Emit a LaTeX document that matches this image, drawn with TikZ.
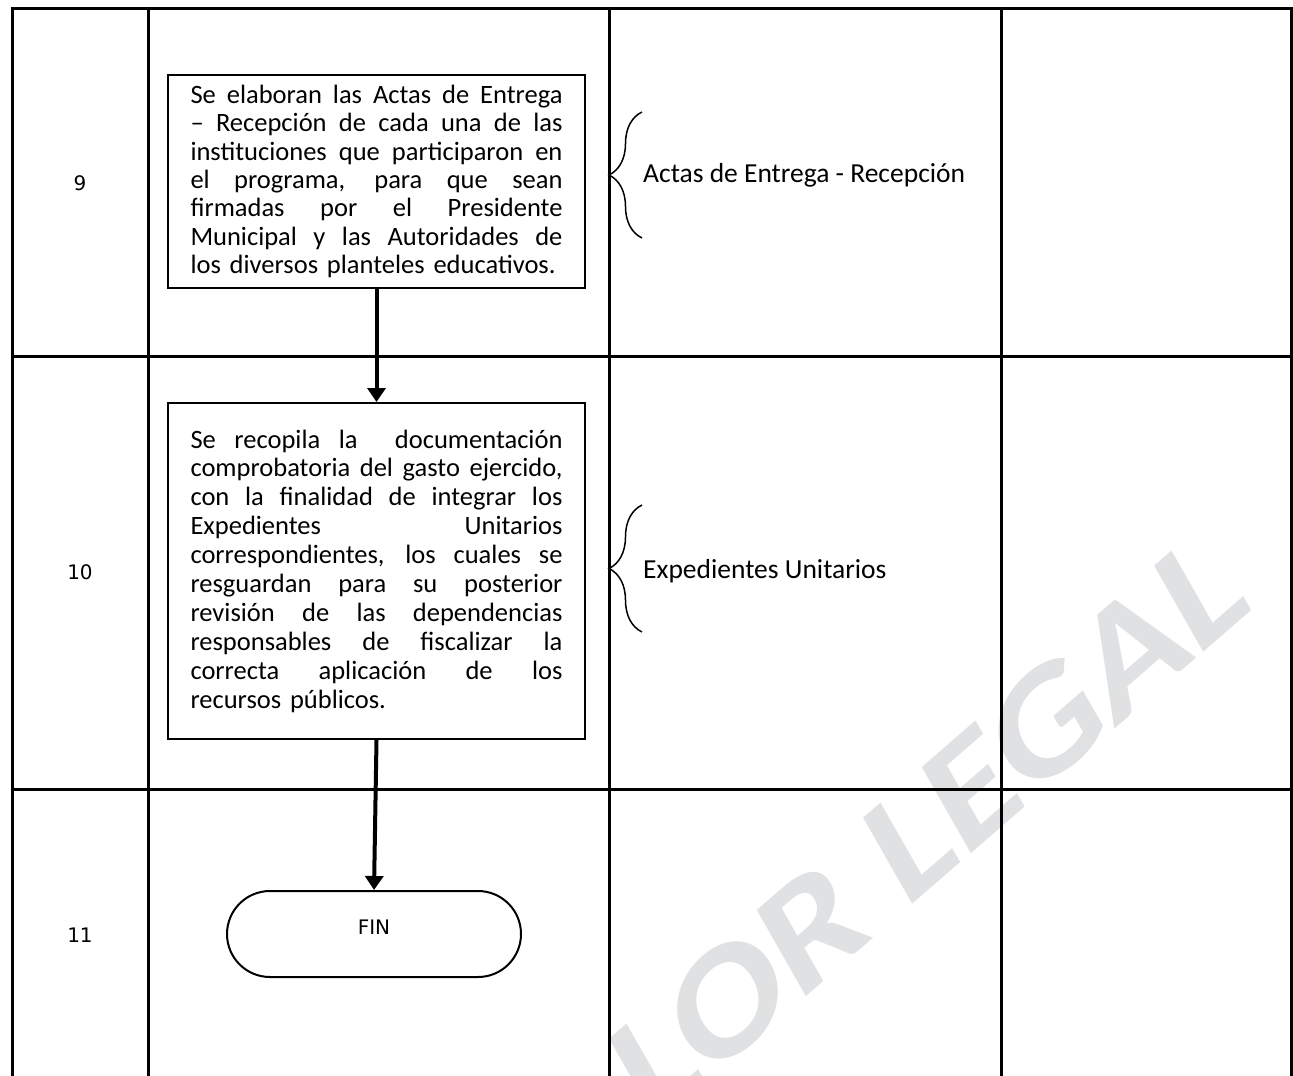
\documentclass[tikz,border=0pt]{standalone}
\usepackage{fontspec}
\setmainfont{Carlito}
\newfontfamily\labelfont{DejaVu Sans}
\usetikzlibrary{arrows.meta,decorations.pathreplacing}
\definecolor{wmgray}{RGB}{224,225,227}
% justified line of fixed width inside the process boxes
\newlength\colw \setlength\colw{372pt}
\newcommand\jline[1]{\makebox[\colw][s]{%
  \spaceskip=\fontdimen2\font plus 1fil minus \fontdimen4\font
  \xspaceskip=\spaceskip #1}\\}
\begin{document}
\begin{tikzpicture}[x=1pt,y=-1pt,
  grid/.style={line width=3pt, line cap=rect},
  procbox/.style={draw, line width=2pt, text width=\colw, inner xsep=22.5pt,
    inner ysep=0pt, align=left, minimum width=417pt},
  bodyfont/.style={font=\fontsize{26.5}{#1}\selectfont},
  flow/.style={line width=4pt, -{Triangle[width=18pt,length=14pt]}},
  term/.style={draw, line width=2pt, rounded corners=43pt, minimum width=294pt,
    minimum height=86pt, inner sep=0pt, font=\labelfont\fontsize{20}{24}\selectfont,
    text height=15pt, text depth=14pt},
  stepno/.style={inner sep=0pt, font=\labelfont\fontsize{20}{24}\selectfont},
  doclabel/.style={anchor=base west, inner sep=0pt, font=\fontsize{27.5}{32}\selectfont},
  docbrace/.style={line width=1.5pt, decorate, decoration={brace, amplitude=33pt}},
  watermark/.style={text=wmgray, inner sep=0pt, font=\fontsize{150}{150}\selectfont\bfseries}
]
\useasboundingbox (0,0) rectangle (1293,1076);

% watermark behind the table
\begin{scope}
  \clip (0,0) rectangle (1293,1076);
  \node[watermark, rotate=41, xslant=0.2, xscale=1.2, anchor=base east] (wm) at (1254,608) {LOR LEGAL};
\end{scope}

% table frame
\draw[grid] (12,1076) -- (12,8) -- (1291,8) -- (1291,1076);
\draw[grid] (148,8) -- (148,1076);
\draw[grid] (609,8) -- (609,1076);
\draw[grid] (1001,8) -- (1001,1076);
\draw[grid] (12,356) -- (1291,356);
\draw[grid] (12,789) -- (1291,789);

% step numbers
\node[stepno] (n9) at (80,183) {9};
\node[stepno] (n10) at (80,572) {10};
\node[stepno] (n11) at (80,935) {11};

% process boxes
\node[procbox, bodyfont=28.3, minimum height=213pt] (p9) at (376.5,181.5) {%
\jline{Se elaboran las Actas de Entrega}
\jline{– Recepción de cada una de las}
\jline{instituciones que participaron en}
\jline{el programa, para que sean}
\jline{firmadas por el Presidente}
\jline{Municipal y las Autoridades de}
los diversos planteles educativos.};

\node[procbox, bodyfont=28.9, minimum height=336pt] (p10) at (376.5,571) {%
\jline{Se recopila la\ \ documentación}
\jline{comprobatoria del gasto ejercido,}
\jline{con la finalidad de integrar los}
\jline{Expedientes Unitarios}
\jline{correspondientes, los cuales se}
\jline{resguardan para su posterior}
\jline{revisión de las dependencias}
\jline{responsables de fiscalizar la}
\jline{correcta aplicación de los}
recursos públicos.};

\node[term] (fin) at (374,934) {FIN};

% flow arrows
\draw[flow] (p9.south) -- (p10.north);
\draw[flow] (p10.south) -- (fin.north);

% documents produced
\node[doclabel] (d9) at (643,182) {Actas de Entrega - Recepción};
\draw[docbrace] (642,238) -- (642,112);
\node[doclabel] (d10) at (643,578) {Expedientes Unitarios};
\draw[docbrace] (642,632) -- (642,505);
\end{tikzpicture}
\end{document}
